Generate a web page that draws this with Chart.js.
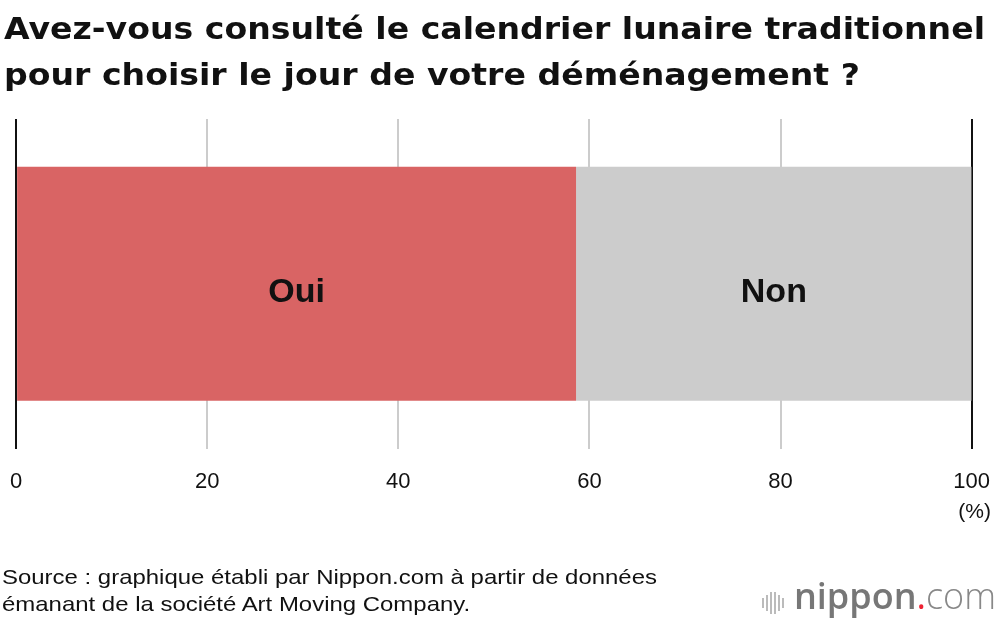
<!DOCTYPE html>
<html>
<head>
<meta charset="utf-8">
<script src="https://cdn.jsdelivr.net/npm/chart.js@4.4.0/dist/chart.umd.min.js"></script>
<style>
  body { margin: 0; background: #fff; font-family: "Liberation Sans", Arial, sans-serif; }
  #wrap { position: relative; width: 1000px; height: 622px; overflow: hidden; }
  #title { position: absolute; left: 4px; top: 5px; font-family: "DejaVu Sans", sans-serif; font-weight: bold; font-size: 31px; line-height: 46px; color: #111; transform-origin: 0 0; white-space: nowrap; }
  #source { position: absolute; left: 2px; top: 563px; font-size: 21px; line-height: 27px; color: #111; transform-origin: 0 0; white-space: nowrap; }
  #logo { position: absolute; right: 4px; top: 576px; font-family: "Open Sans", sans-serif; font-size: 36px; line-height: 40px; color: #888; }
  #logo .n { font-weight: 600; color: #777; }
  #logo .d { color: #e23; }
  #logo .c { font-weight: 300; color: #888; }
  #bars { display: inline-block; vertical-align: middle; margin-right: 8px; }
  #bars span { display: inline-block; width: 2px; background: #bbb; margin-right: 2px; vertical-align: middle; }
  canvas { position: absolute; left: -10px; top: 0; }
  .ln { display: inline-block; }
</style>
</head>
<body>
<div id="wrap">
  <canvas id="c" width="1020" height="622"></canvas>
  <div id="title"><span class="ln" id="t1">Avez-vous consulté le calendrier lunaire traditionnel</span><br><span class="ln">pour choisir le jour de votre déménagement ?</span></div>
  <div id="source"><span class="ln" id="s1">Source : graphique établi par Nippon.com à partir de données</span><br><span class="ln">émanant de la société Art Moving Company.</span></div>
  <div id="logo"><span id="bars"><span style="height:10px"></span><span style="height:16px"></span><span style="height:22px"></span><span style="height:22px"></span><span style="height:16px"></span><span style="height:10px"></span></span><span class="n">nippon</span><span class="d">.</span><span class="c">com</span></div>
</div>
<script>
const categories = ['']
const seriesNames = ['Oui', 'Non']
const ouiValues = [58.6]
const nonValues = [41.4]
const tickValues = [0, 20, 40, 60, 80, 100]

const colors = ['#d96464', '#cccccc']

// stretch the texts to the widths seen in the reference
function fit(boxId, lineId, target) {
  const w = document.getElementById(lineId).getBoundingClientRect().width
  document.getElementById(boxId).style.transform = 'scaleX(' + (target / w) + ')'
}
fit('title', 't1', 981)
fit('source', 's1', 655)

// write Oui / Non inside each bar
const barLabels = {
  id: 'barLabels',
  afterDatasetsDraw(chart) {
    const ctx = chart.ctx
    ctx.save()
    ctx.font = 'bold 34px "Liberation Sans", Arial, sans-serif'
    ctx.fillStyle = '#111'
    ctx.textAlign = 'center'
    ctx.textBaseline = 'middle'
    chart.data.datasets.forEach((ds, i) => {
      chart.getDatasetMeta(i).data.forEach(bar => {
        const p = bar.getProps(['x', 'y', 'base'], true)
        ctx.fillText(ds.label, (p.x + p.base) / 2, p.y + 9)
      })
    })
    ctx.restore()
  }
}

// "(%)" under the last tick
const unitLabel = {
  id: 'unitLabel',
  afterDraw(chart) {
    const ctx = chart.ctx
    const x = chart.scales.x.getPixelForValue(100)
    ctx.save()
    ctx.font = '21px "Liberation Sans", Arial, sans-serif'
    ctx.fillStyle = '#111'
    ctx.textAlign = 'center'
    ctx.textBaseline = 'middle'
    ctx.fillText('(%)', x + 3, 512)
    ctx.restore()
  }
}

new Chart(document.getElementById('c'), {
  type: 'bar',
  data: {
    labels: categories,
    datasets: [
      { label: seriesNames[0], data: ouiValues, backgroundColor: colors[0] },
      { label: seriesNames[1], data: nonValues, backgroundColor: colors[1] }
    ]
  },
  options: {
    indexAxis: 'y',
    responsive: false,
    animation: false,
    layout: { padding: { left: 6, right: 20, top: 119, bottom: 107 } },
    categoryPercentage: 1,
    barPercentage: 0.71,
    plugins: { legend: { display: false }, tooltip: { enabled: false } },
    scales: {
      x: {
        stacked: true,
        min: 0,
        max: 100,
        afterBuildTicks: axis => { axis.ticks = tickValues.map(v => ({ value: v })) },
        border: { display: false },
        grid: {
          drawTicks: false,
          lineWidth: 2,
          color: c => (c.tick && (c.tick.value === 0 || c.tick.value === 100)) ? '#111' : '#cccccc'
        },
        ticks: {
          padding: 20,
          color: '#111',
          font: { size: 22, family: '"Liberation Sans", Arial, sans-serif' },
          maxRotation: 0
        }
      },
      y: { stacked: true, display: false }
    }
  },
  plugins: [barLabels, unitLabel]
})
</script>
</body>
</html>
